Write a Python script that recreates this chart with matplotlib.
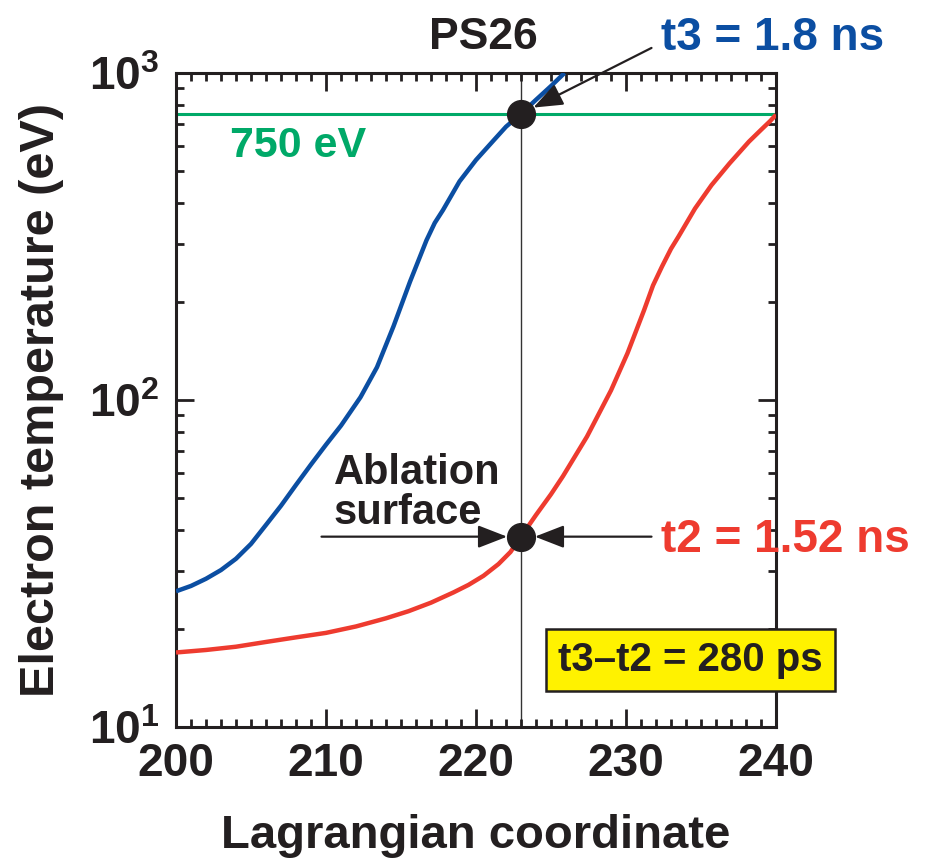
import matplotlib
matplotlib.use("Agg")
import matplotlib.pyplot as plt
from matplotlib.ticker import MultipleLocator, FixedLocator, FixedFormatter, LogLocator, NullFormatter

plt.rcParams['font.family'] = ['Liberation Sans', 'DejaVu Sans']
plt.rcParams['font.weight'] = 'bold'
plt.rcParams['mathtext.fontset'] = 'custom'
plt.rcParams['mathtext.rm'] = 'Liberation Sans:bold'
plt.rcParams['mathtext.bf'] = 'Liberation Sans:bold'

# Curva t3 (azul)
x_t3 = [200.0, 201.0, 202.0, 203.0, 204.0, 205.0, 206.0, 207.0, 208.0, 209.0,
        210.0, 211.0, 212.3, 213.4, 214.5, 215.6, 216.7, 217.25, 217.8, 218.9,
        220.0, 221.2, 222.0, 223.0, 224.0, 225.0, 225.9]
te_t3 = [26.0, 27.0, 28.4, 30.2, 32.7, 36.3, 41.5, 47.5, 55.0, 63.5,
         73.0, 83.5, 102.0, 126.0, 168.0, 230.0, 308.0, 348.0, 381.0, 466.0,
         542.0, 624.0, 685.0, 750.0, 828.0, 912.0, 1000.0]

# Curva t2 (roja)
x_t2 = [200.0, 202.0, 204.0, 206.0, 208.0, 210.0, 212.0, 214.0, 215.5, 217.0,
        218.5, 219.5, 220.5, 221.5, 222.3, 223.0, 224.0, 225.0, 225.8, 227.4,
        229.0, 230.1, 231.2, 231.8, 232.4, 233.0, 233.5, 234.6, 235.7, 236.9,
        238.2, 239.0, 239.6, 240.0]
te_t2 = [16.9, 17.2, 17.6, 18.2, 18.8, 19.4, 20.3, 21.5, 22.6, 24.0,
         25.8, 27.2, 29.0, 31.5, 34.3, 38.2, 44.5, 51.5, 58.5, 77.3,
         107.0, 139.0, 188.0, 224.0, 256.0, 290.0, 316.0, 385.0, 454.0, 529.0,
         617.0, 670.0, 712.0, 745.0]

umbral = 750.0          # eV
x_abl = 223.0           # superficie de ablacion
te_t3_punto = 750.0
te_t2_punto = 38.2

x_ticks = [200, 210, 220, 230, 240]
y_ticks = [10, 100, 1000]
y_labels = [r'$\mathbf{10^{1}}$', r'$\mathbf{10^{2}}$', r'$\mathbf{10^{3}}$']

azul = '#0b4ea2'
rojo = '#ee3b2f'
verde = '#00a968'
negro = '#231f20'

fig = plt.figure(figsize=(9.3, 8.66), dpi=100)
ax = fig.add_axes([0.18925, 0.16051, 0.64516, 0.75520])

ax.axvline(x_abl, color='#333333', lw=1.0, zorder=1)
ax.axhline(umbral, color=verde, lw=2.2, zorder=2)
ax.plot(x_t3, te_t3, color=azul, lw=3.2, zorder=3, solid_capstyle='butt')
ax.plot(x_t2, te_t2, color=rojo, lw=3.2, zorder=3, solid_capstyle='butt')
ax.plot([x_abl, x_abl], [te_t3_punto, te_t2_punto], 'o', color=negro,
        markersize=20, zorder=5, clip_on=False)

ax.set_yscale('log')
ax.set_xlim(200, 240)
ax.set_ylim(10, 1000)

ax.xaxis.set_major_locator(FixedLocator(x_ticks))
ax.xaxis.set_minor_locator(MultipleLocator(1))
ax.yaxis.set_major_locator(FixedLocator(y_ticks))
ax.yaxis.set_major_formatter(FixedFormatter(y_labels))
ax.yaxis.set_minor_locator(LogLocator(base=10, subs=range(2, 10)))
ax.yaxis.set_minor_formatter(NullFormatter())

ax.tick_params(which='both', direction='in', top=True, right=True,
               color=negro, width=2)
ax.tick_params(which='major', length=13)
ax.tick_params(which='minor', length=6)
ax.tick_params(axis='x', which='major', labelsize=33, pad=11, labelcolor=negro)
ax.tick_params(axis='y', which='major', labelsize=33, pad=12, labelcolor=negro)
for s in ax.spines.values():
    s.set_linewidth(2.2)
    s.set_color(negro)

ax.set_xlabel('Lagrangian coordinate', fontsize=34, fontweight='bold',
              color=negro, labelpad=20)
ax.set_ylabel('Electron temperature (eV)', fontsize=35, fontweight='bold',
              color=negro, labelpad=18)

# Textos
ax.text(220.5, 1280, 'PS26', fontsize=32, fontweight='bold', color=negro,
        ha='center', va='center')
ax.text(232.3, 1280, 't3 = 1.8 ns', fontsize=33, fontweight='bold', color=azul,
        ha='left', va='center')
ax.text(232.3, 37.3, 't2 = 1.52 ns', fontsize=33, fontweight='bold', color=rojo,
        ha='left', va='center')
ax.text(203.6, 598, '750 eV', fontsize=31, fontweight='bold', color=verde,
        ha='left', va='center')
ax.text(210.5, 69, 'Ablation\nsurface', fontsize=30, fontweight='bold',
        color=negro, ha='left', va='top', linespacing=1.0)
ax.text(234.3, 16.0, 't3\u2013t2 = 280 ps', fontsize=29, fontweight='bold',
        color=negro, ha='center', va='center',
        bbox=dict(boxstyle='square,pad=0.3', facecolor='#fff200',
                  edgecolor=negro, linewidth=1.8))

# Flechas
flecha = dict(arrowstyle='-|>,head_length=0.9,head_width=0.35', color=negro,
              lw=1.6, shrinkA=0, shrinkB=10, mutation_scale=20)
ax.annotate('', xy=(x_abl, te_t3_punto), xytext=(231.7, 1193),
            arrowprops=flecha, annotation_clip=False)
ax.annotate('', xy=(x_abl, te_t2_punto), xytext=(231.7, te_t2_punto),
            arrowprops=flecha, annotation_clip=False)
ax.annotate('', xy=(x_abl, te_t2_punto), xytext=(209.7, te_t2_punto),
            arrowprops=flecha, annotation_clip=False)

fig.savefig('out.png', dpi=100)
